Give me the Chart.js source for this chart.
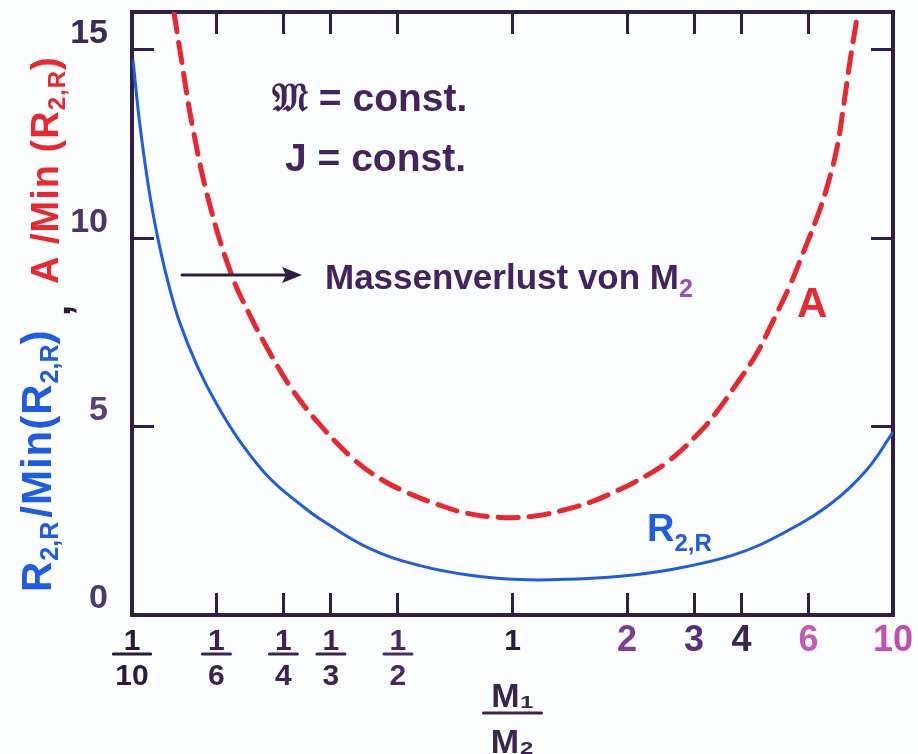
<!DOCTYPE html>
<html><head><meta charset="utf-8">
<script src="https://cdn.jsdelivr.net/npm/chart.js@4.4.1/dist/chart.umd.min.js"></script>
<style>html,body{margin:0;padding:0;background:#fcfdff;}canvas{display:block}</style>
</head><body>
<canvas id="c" width="918" height="754"></canvas>
<script>
// ---- data ----
const xTickValues = [0.1, 1/6, 0.25, 1/3, 0.5, 1, 2, 3, 4, 6, 10];
const xTickNum    = ['1','1','1','1','1','1','2','3','4','6','10'];
const xTickDen    = ['10','6','4','3','2','','','','','',''];
const yTickValues = [0, 5, 10, 15];
const yTickLabels = ['0','5','10','15'];

// R_{2,R}/Min(R_{2,R})  (solid blue)
const rX = [0.1006,0.105,0.1115,0.1185,0.1259,0.1337,0.1482,0.1673,0.1922,0.2305,0.2814,0.3119,0.4221,0.5714,0.7733,1.046,1.416,1.917,2.547,3.798,5.139,6.956,8.545,10];
const rY = [14.72,12.97,11.12,9.72,8.62,7.74,6.62,5.58,4.61,3.62,2.88,2.55,1.76,1.31,1.055,0.94,0.95,1.03,1.19,1.59,2.17,3.0,3.86,4.85];

// A/Min(R_{2,R})  (dashed red)
const aX = [0.1289,0.1337,0.1446,0.1603,0.1831,0.2042,0.2305,0.2649,0.3119,0.3808,0.4485,0.5281,0.6332,0.7592,0.927,1.132,1.357,1.628,1.882,2.073,2.547,3.111,3.447,3.891,4.391,4.837,5.362,5.8,6.314,6.706,7.126,7.39,7.71,8.09];
const aY = [16.0,14.97,12.9,10.86,9.0,7.95,6.95,5.95,5.05,4.15,3.62,3.25,2.94,2.7,2.59,2.62,2.78,3.02,3.3,3.5,4.05,4.86,5.4,6.15,6.95,7.8,8.75,9.6,10.55,11.35,12.4,13.4,14.7,16.0];

// ---- styles ----
const FONT = '"Liberation Sans", "DejaVu Sans", sans-serif';
const AX = '#2f1f48';
const xTickColors = ['#2b1a3c','#3a2450','#3a2450','#3a2450','#4a2a66','#2b1a3c','#7a3f9e','#5a2f7a','#3a2450','#c45ab8','#c050b0'];
const yTickColors = ['#4a3a6e','#5a3f7e','#4a3570','#3a2a55'];
const BLUE = '#1e5de3', RED = '#e8272f', TXT = '#43245f';

function rich(ctx, runs, x, y) {
  let cx = x;
  for (const r of runs) {
    ctx.font = 'bold ' + r.s + 'px ' + FONT;
    ctx.letterSpacing = (r.ls || 0) + 'px';
    ctx.fillStyle = r.c;
    ctx.fillText(r.t, cx, y + (r.dy || 0));
    cx += ctx.measureText(r.t).width + (r.gap || 0);
  }
  ctx.letterSpacing = '0px';
  return cx;
}

const deco = {
  id: 'deco',
  afterDraw(chart) {
    const ctx = chart.ctx, xs = chart.scales.x, ca = chart.chartArea;
    ctx.save();
    ctx.textBaseline = 'alphabetic';
    // fraction bars for x tick labels
    xTickValues.forEach((v, i) => {
      if (!xTickDen[i]) return;
      const px = xs.getPixelForValue(v);
      ctx.font = 'bold 30px ' + FONT;
      const w = Math.max(ctx.measureText(xTickDen[i]).width + 4, 28);
      ctx.strokeStyle = xTickColors[i]; ctx.lineWidth = 3; ctx.lineCap = 'round';
      ctx.beginPath(); ctx.moveTo(px - w/2, ca.bottom + 39); ctx.lineTo(px + w/2, ca.bottom + 39); ctx.stroke();
    });
    // x axis title M1 / M2
    const cx = (ca.left + ca.right) / 2;
    ctx.textAlign = 'center';
    ctx.fillStyle = '#3a2450';
    ctx.font = 'bold 34px ' + FONT;
    ctx.fillText('M\u2081', cx, ca.bottom + 92);
    ctx.fillText('M\u2082', cx, ca.bottom + 138);
    ctx.strokeStyle = '#3a2450'; ctx.lineWidth = 3; ctx.lineCap = 'round';
    ctx.beginPath(); ctx.moveTo(cx - 29, ca.bottom + 98); ctx.lineTo(cx + 29, ca.bottom + 98); ctx.stroke();
    ctx.textAlign = 'left';

    // rotated y title (two colours)
    ctx.save();
    ctx.translate(51, 592); ctx.rotate(-Math.PI / 2);
    rich(ctx, [
      {t:'R', s:42, c:BLUE, ls:1}, {t:'2,R', s:25, c:BLUE, dy:7, gap:4},
      {t:'/Min(R', s:42, c:BLUE, ls:1}, {t:'2,R', s:25, c:BLUE, dy:7}, {t:')', s:42, c:BLUE}
    ], 0, 0);
    ctx.restore();
    ctx.save();
    ctx.translate(70, 316); ctx.rotate(-Math.PI / 2);
    rich(ctx, [{t:',', s:40, c:'#2b1a3c'}], 0, 0);
    ctx.restore();
    ctx.save();
    ctx.translate(58, 284); ctx.rotate(-Math.PI / 2);
    rich(ctx, [
      {t:'A /Min (R', s:38, c:RED, ls:1}, {t:'2,R', s:24, c:RED, dy:7, ls:1}, {t:')', s:38, c:RED}
    ], 0, 0);
    ctx.restore();

    // annotations
    rich(ctx, [{t:'\u{1D510} = const.', s:39, c:TXT}], 272, 111);
    rich(ctx, [{t:'J = const.', s:39, c:TXT}], 285, 171);
    rich(ctx, [{t:'Massenverlust von M', s:35, c:TXT}, {t:'2', s:25, c:'#9a4fc0', dy:8}], 325, 289);
    // arrow
    ctx.strokeStyle = '#2e1d48'; ctx.fillStyle = '#2e1d48'; ctx.lineWidth = 3;
    ctx.beginPath(); ctx.moveTo(182, 275); ctx.lineTo(288, 275); ctx.stroke();
    ctx.beginPath(); ctx.moveTo(302, 275); ctx.lineTo(282, 267); ctx.lineTo(286, 275); ctx.lineTo(282, 283); ctx.closePath(); ctx.fill();
    // curve labels
    rich(ctx, [{t:'A', s:42, c:RED}], 797, 317);
    rich(ctx, [{t:'R', s:38, c:BLUE}, {t:'2,R', s:24, c:BLUE, dy:10}], 647, 541);
    ctx.restore();
  }
};

const tickFracFont = {family: FONT, size: 30, weight: 'bold', lineHeight: '35px'};
const tickIntFont  = {family: FONT, size: 36, weight: 'bold', lineHeight: '35px'};

new Chart(document.getElementById('c'), {
  type: 'line',
  data: {
    datasets: [
      {data: rX.map((x, i) => ({x, y: rY[i]})), borderColor: BLUE, borderWidth: 3, pointRadius: 0,
       tension: 0.4, fill: false},
      {data: aX.map((x, i) => ({x, y: aY[i]})), borderColor: RED, borderWidth: 5, borderDash: [20, 11],
       borderCapStyle: 'round', pointRadius: 0, tension: 0.4, fill: false}
    ]
  },
  options: {
    responsive: false, animation: false, events: [],
    layout: {padding: 0},
    plugins: {legend: {display: false}, tooltip: {enabled: false}},
    scales: {
      x: {
        type: 'logarithmic', position: 'bottom', min: 0.1, max: 10,
        afterBuildTicks: s => { s.ticks = xTickValues.map(v => ({value: v})); },
        afterFit: s => { s.height = 139; s.paddingLeft = 0; s.paddingRight = 0; },
        border: {display: true, color: AX, width: 4},
        grid: {drawOnChartArea: false, drawTicks: true, tickLength: -22, color: AX, lineWidth: 3},
        ticks: {
          autoSkip: false, maxRotation: 0, minRotation: 0, padding: 31,
          callback: (v, i) => xTickDen[i] ? [xTickNum[i], xTickDen[i]] : xTickNum[i],
          color: c => xTickColors[c.index],
          font: c => (xTickDen[c.index] || c.index === 5) ? tickFracFont : tickIntFont
        }
      },
      x2: {
        type: 'logarithmic', position: 'top', min: 0.1, max: 10,
        afterBuildTicks: s => { s.ticks = xTickValues.map(v => ({value: v})); },
        afterFit: s => { s.height = 12; s.paddingLeft = 0; s.paddingRight = 0; },
        border: {display: true, color: AX, width: 4},
        grid: {drawOnChartArea: false, drawTicks: true, tickLength: -22, color: AX, lineWidth: 3},
        ticks: {display: false}
      },
      y: {
        type: 'linear', position: 'left', min: 0, max: 16,
        afterBuildTicks: s => { s.ticks = yTickValues.map(v => ({value: v})); },
        afterFit: s => { s.width = 132; s.paddingTop = 0; s.paddingBottom = 0; },
        border: {display: true, color: AX, width: 4},
        grid: {drawOnChartArea: false, drawTicks: true, tickLength: -22, color: AX, lineWidth: 3},
        ticks: {
          padding: 46,
          callback: (v, i) => [yTickLabels[i], ''],
          color: c => yTickColors[c.index],
          font: {family: FONT, size: 34, weight: 'bold', lineHeight: '32px'}
        }
      },
      y2: {
        type: 'linear', position: 'right', min: 0, max: 16,
        afterBuildTicks: s => { s.ticks = yTickValues.map(v => ({value: v})); },
        afterFit: s => { s.width = 25; s.paddingTop = 0; s.paddingBottom = 0; },
        border: {display: true, color: AX, width: 4},
        grid: {drawOnChartArea: false, drawTicks: true, tickLength: -22, color: AX, lineWidth: 3},
        ticks: {display: false}
      }
    }
  },
  plugins: [deco]
});
</script>
</body></html>
